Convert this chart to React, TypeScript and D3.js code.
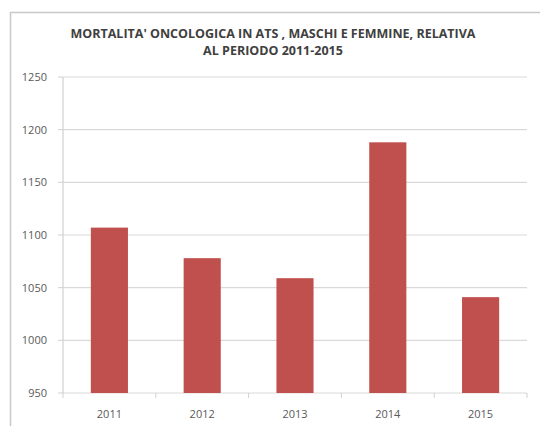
import * as d3 from 'd3'

const years = ['2011', '2012', '2013', '2014', '2015']
const deaths = [1107, 1078, 1059, 1188, 1041]
const yTicks = [950, 1000, 1050, 1100, 1150, 1200, 1250]
const titleLines = ["MORTALITA' ONCOLOGICA IN ATS , MASCHI E FEMMINE, RELATIVA", 'AL PERIODO 2011-2015']

const W = 540
const H = 426
const M = { top: 77, right: 13, bottom: 33, left: 63 }
const FONT = '"Open Sans", Lato, sans-serif'

export default function App() {
  const iW = W - M.left - M.right
  const iH = H - M.top - M.bottom

  const x = d3.scaleBand().domain(years).range([0, iW]).paddingInner(0.6).paddingOuter(0.3)
  const y = d3.scaleLinear().domain([950, 1250]).range([iH, 0])
  const bounds = d3.range(years.length + 1).map(i => i * (iW / years.length))

  return (
    <svg width={W} height={H} style={{ position: 'absolute', left: 0, top: 0, background: '#fff' }}>
      {/* outer frame */}
      <rect x={10.5} y={12.5} width={W} height={H} fill="none" stroke="#c8c8c8" strokeWidth={1.5} />

      {titleLines.map((t, i) => (
        <text key={i} x={273} y={37.5 + i * 17.5} textAnchor="middle" fontFamily={FONT} fontWeight="bold"
          fontSize={12.5} fill="#404040">{t}</text>
      ))}

      <g transform={`translate(${M.left},${M.top})`}>
        {/* gridlines */}
        {yTicks.map(t => (
          <line key={t} x1={0} x2={iW} y1={y(t)} y2={y(t)} stroke="#d9d9d9" strokeWidth={1.2} />
        ))}
        {/* y axis */}
        <line x1={0} x2={0} y1={0} y2={iH} stroke="#d0d0d0" strokeWidth={1.2} />
        {yTicks.map(t => (
          <g key={t}>
            <line x1={-5} x2={0} y1={y(t)} y2={y(t)} stroke="#d0d0d0" />
            <text x={-16} y={y(t)} dy="0.35em" textAnchor="end" fontFamily={FONT} fontSize={11} fill="#595959">{t}</text>
          </g>
        ))}
        {/* x axis ticks */}
        {bounds.map((b, i) => (
          <line key={i} x1={b} x2={b} y1={iH} y2={iH + 5} stroke="#d0d0d0" />
        ))}
        {/* bars */}
        {years.map((yr, i) => (
          <rect key={yr} x={x(yr)} y={y(deaths[i])} width={x.bandwidth()} height={iH - y(deaths[i])} fill="#c0504d" />
        ))}
        {years.map(yr => (
          <text key={yr} x={(x(yr) ?? 0) + x.bandwidth() / 2} y={iH + 25} textAnchor="middle"
            fontFamily={FONT} fontSize={11} fill="#595959">{yr}</text>
        ))}
      </g>
    </svg>
  )
}
